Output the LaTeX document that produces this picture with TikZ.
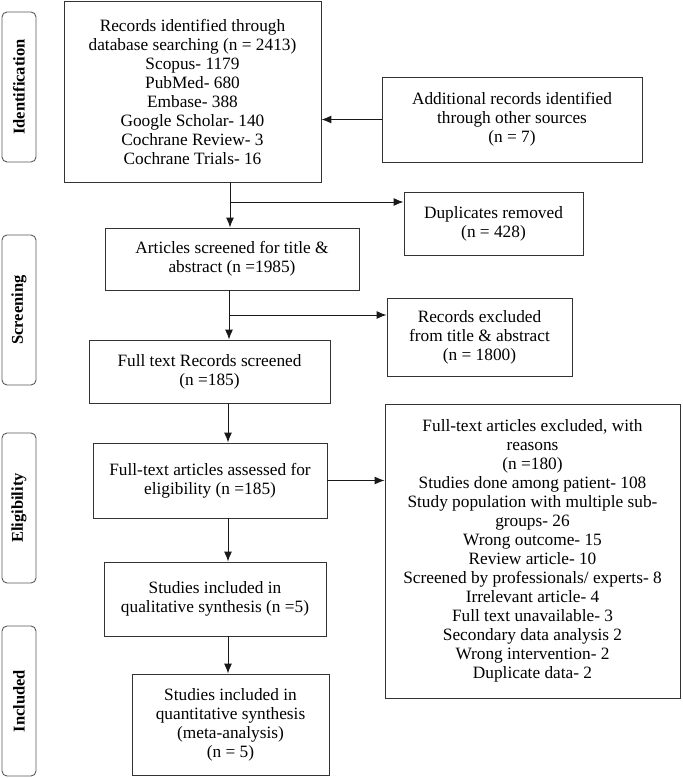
\documentclass[tikz,border=0pt]{standalone}
\usepackage{fontspec}
\setmainfont{Liberation Serif}
\usepackage{tikz}
\usetikzlibrary{arrows.meta}
\tikzstyle{box} = [draw=black!80, line width=0.9pt, align=center, inner sep=2pt, font={\fontsize{17.3}{19}\selectfont}]
\tikzstyle{phase} = [draw=black!65, line width=0.9pt, rounded corners=5pt, minimum width=150pt, minimum height=34pt, rotate=90, font={\fontsize{16.5}{18}\selectfont\bfseries}]
\tikzstyle{flow} = [draw=black!90, line width=1pt, -{Latex[length=10pt,width=8pt]}]

\begin{document}
\begin{tikzpicture}[x=1pt,y=-1pt]
    \useasboundingbox (0,0) rectangle (682,778);
    % phases
    \node[phase](pid) at (19,87){Identification};
    \node[phase](psc) at (19,310){Screening};
    \node[phase](pel) at (19,508){Eligibility};
    \node[phase](pin) at (19,701){Included};
    % main column
    \node[box,minimum width=257pt,minimum height=181pt](rec) at (192.5,91.5){Records identified through\\database searching (n = 2413)\\Scopus- 1179\\PubMed- 680\\Embase- 388\\Google Scholar- 140\\Cochrane Review- 3\\Cochrane Trials- 16};
    \node[box,minimum width=254pt,minimum height=62pt](scr) at (232,259){Articles screened for title \&\\abstract (n =1985)};
    \node[box,minimum width=241pt,minimum height=63pt](full) at (209.5,371.5){Full text Records screened\\(n =185)};
    \node[box,minimum width=234pt,minimum height=75pt](elig) at (210,480.5){Full-text articles assessed for\\eligibility (n =185)};
    \node[box,minimum width=222pt,minimum height=74pt](qual) at (215,599){Studies included in\\qualitative synthesis (n =5)};
    \node[box,minimum width=197pt,minimum height=101pt](quant) at (230.5,724.5){Studies included in\\quantitative synthesis\\(meta-analysis)\\(n = 5)};
    % side column
    \node[box,minimum width=260pt,minimum height=85pt](add) at (512,119.5){Additional records identified\\through other sources\\(n = 7)};
    \node[box,minimum width=179pt,minimum height=63pt](dup) at (493.5,223.5){Duplicates removed\\(n = 428)};
    \node[box,minimum width=185pt,minimum height=78pt](exa) at (479.5,337){Records excluded\\from title \& abstract\\(n = 1800)};
    \node[box,minimum width=295pt,minimum height=294pt](exb) at (532.5,551){Full-text articles excluded, with\\reasons\\(n =180)\\Studies done among patient- 108\\Study population with multiple sub-\\groups- 26\\Wrong outcome- 15\\Review article- 10\\Screened by professionals/ experts- 8\\Irrelevant article- 4\\Full text unavailable- 3\\Secondary data analysis 2\\Wrong intervention- 2\\Duplicate data- 2};
    % spine and branch points
    \coordinate(s1) at (230,0);
    \coordinate(s2) at (229,0);
    \coordinate(s3) at (228,0);
    \coordinate(b1) at (230,202);
    \coordinate(b2) at (229,315);
    \draw[flow](add.west)--(add.west -| rec.east);
    \draw[flow](s1 |- rec.south)--(s1 |- scr.north);
    \draw[flow](b1)--(b1 -| dup.west);
    \draw[flow](s2 |- scr.south)--(s2 |- full.north);
    \draw[flow](b2)--(b2 -| exa.west);
    \draw[flow](s3 |- full.south)--(s3 |- elig.north);
    \draw[flow](elig.east)--(elig.east -| exb.west);
    \draw[flow](s3 |- elig.south)--(s3 |- qual.north);
    \draw[flow](s3 |- qual.south)--(s3 |- quant.north);
  \end{tikzpicture}
\end{document}
